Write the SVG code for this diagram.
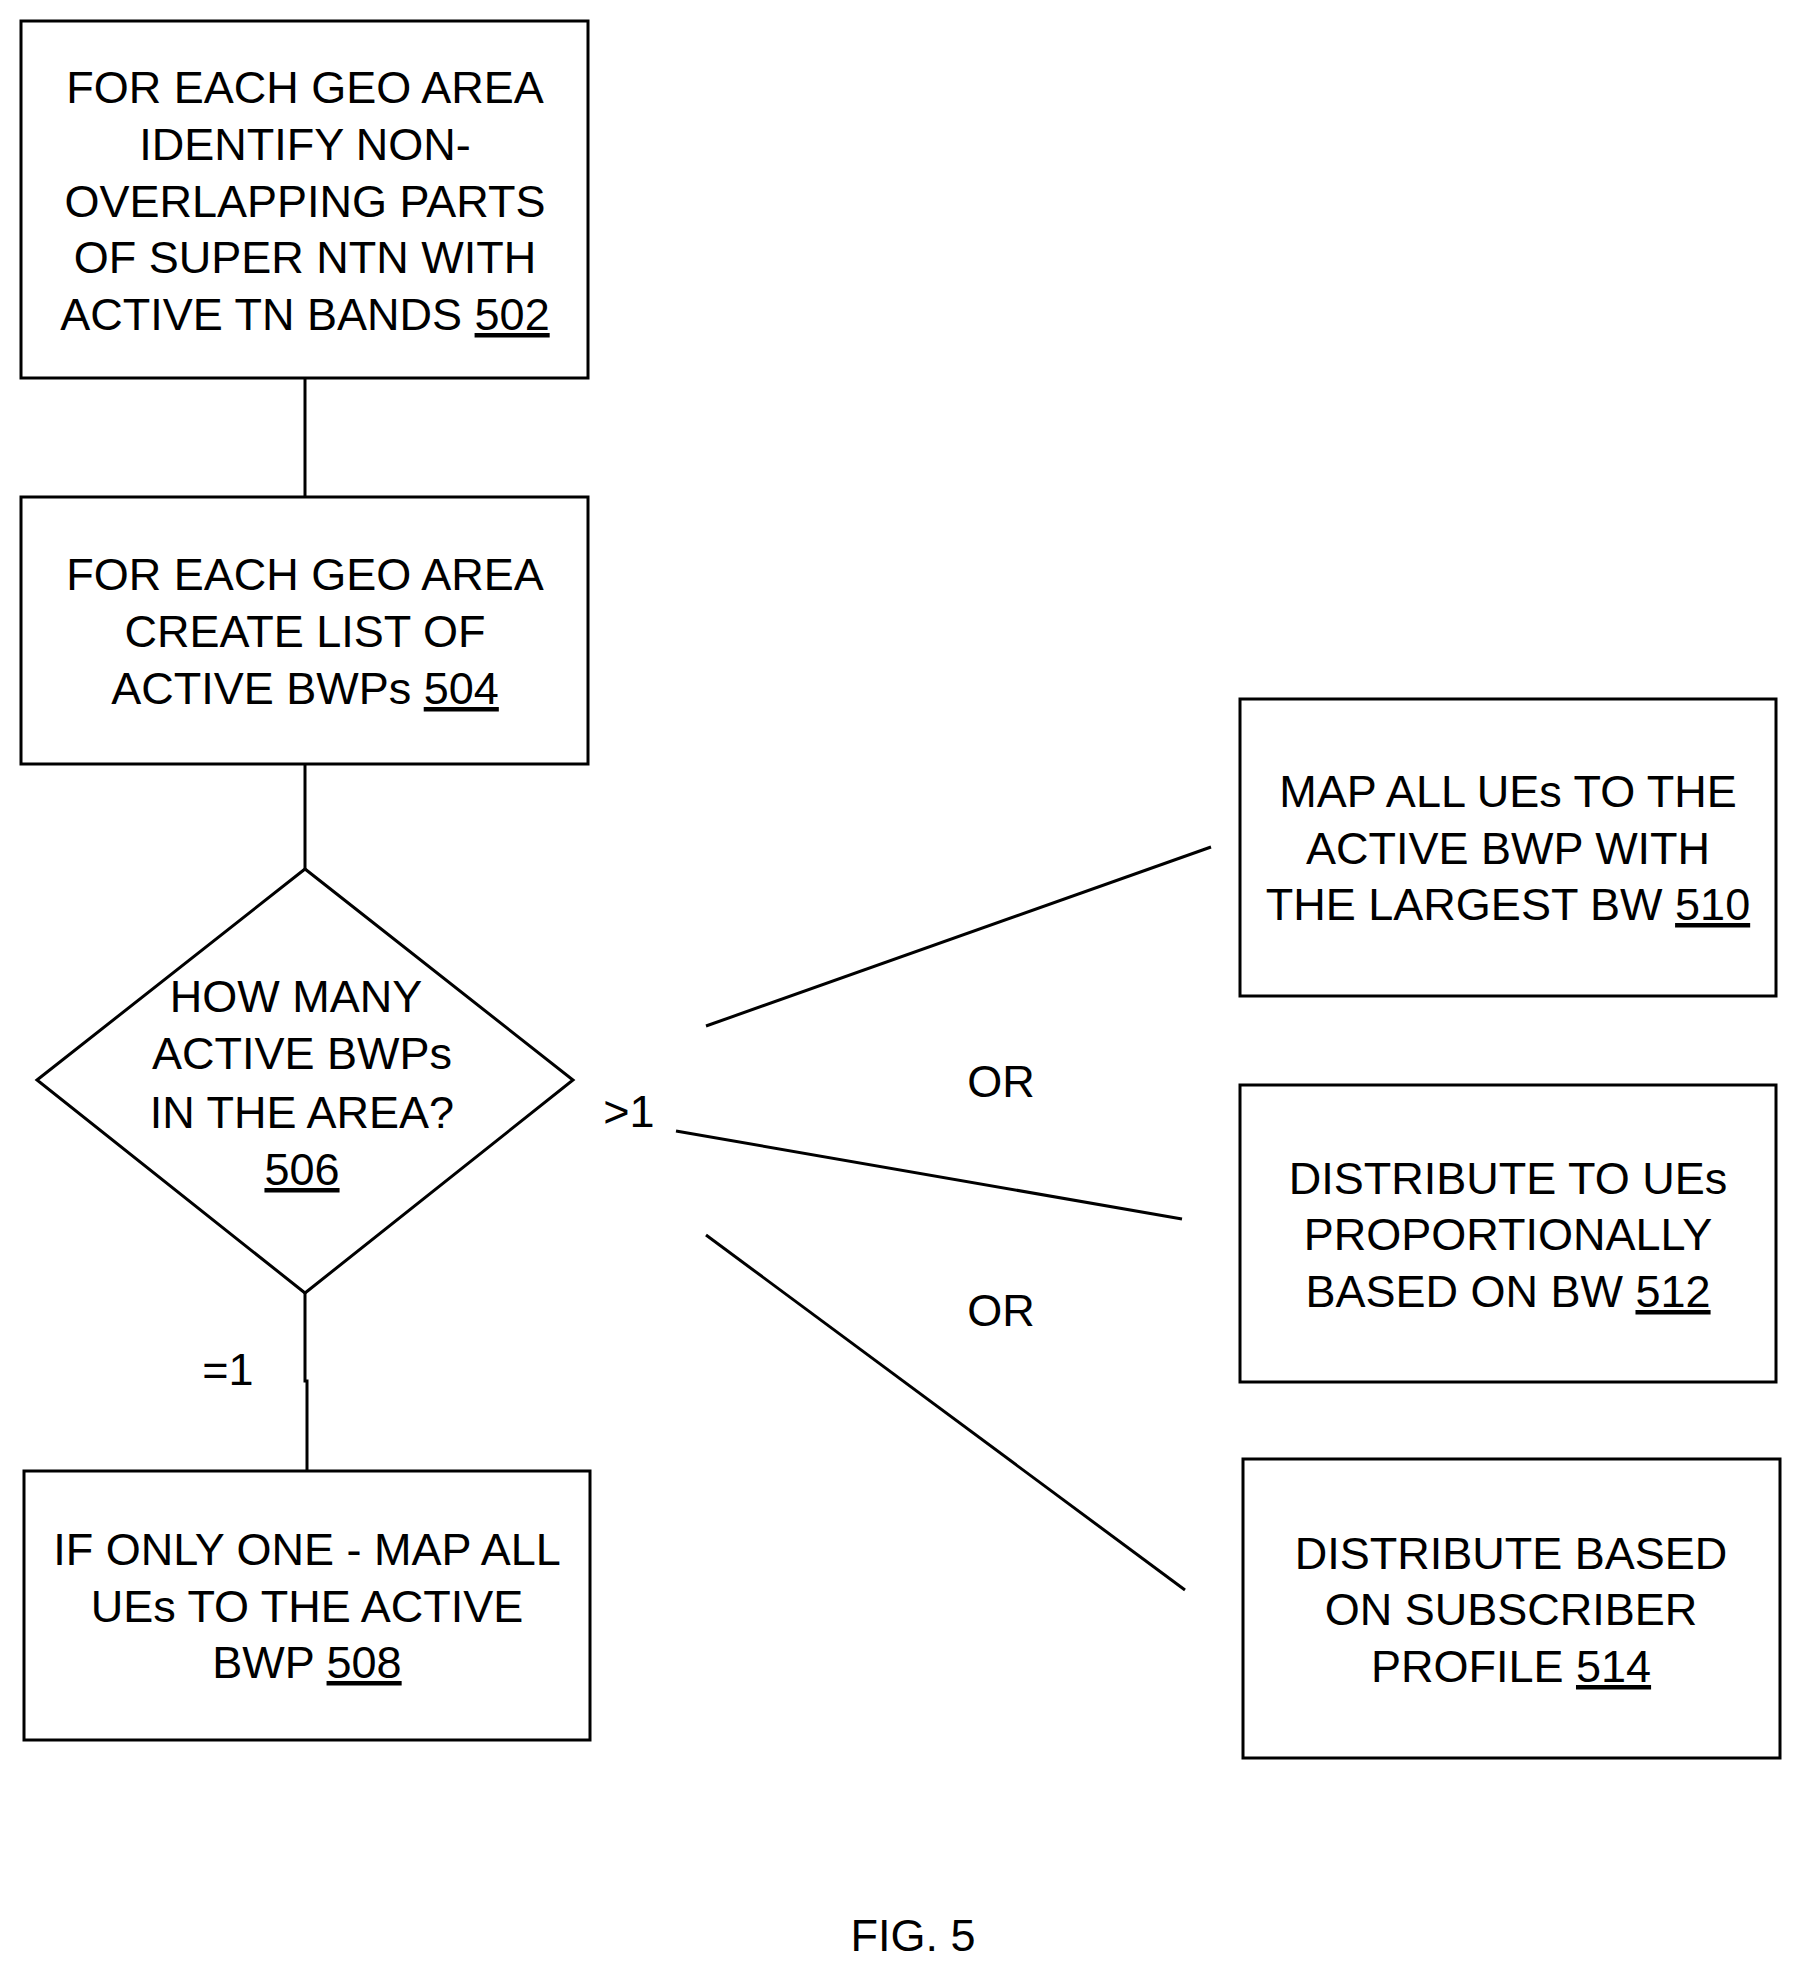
<svg xmlns="http://www.w3.org/2000/svg" width="1813" height="1987" viewBox="0 0 1813 1987">
<style>
.b{fill:#fff;stroke:#000;stroke-width:3}
.c{stroke:#000;stroke-width:3;fill:none}
text{font-family:"Liberation Sans",Arial,sans-serif;font-size:45px;fill:#000;text-anchor:middle}
.u{text-decoration:underline}
</style>
<rect width="1813" height="1987" fill="#fff"/>
<g id="connectors">
<line class="c" x1="305" y1="378" x2="305" y2="497"/>
<line class="c" x1="305" y1="764" x2="305" y2="869"/>
<polyline class="c" points="305,1293 305,1381 307,1381 307,1471"/>
<line class="c" x1="706" y1="1026" x2="1211" y2="847"/>
<line class="c" x1="676" y1="1131" x2="1182" y2="1219"/>
<line class="c" x1="706" y1="1235" x2="1185" y2="1590"/>
<text x="629" y="1127">&gt;1</text>
<text x="228" y="1385">=1</text>
<text x="1001" y="1097">OR</text>
<text x="1001" y="1326">OR</text>
</g>
<g id="n502"><rect class="b" x="21" y="21" width="567" height="357"/>
<text x="305" y="103">FOR EACH GEO AREA</text><text x="305" y="160">IDENTIFY NON-</text><text x="305" y="217">OVERLAPPING  PARTS</text><text x="305" y="273">OF SUPER NTN WITH</text><text x="305" y="330">ACTIVE TN BANDS <tspan class="u">502</tspan></text></g>
<g id="n504"><rect class="b" x="21" y="497" width="567" height="267"/>
<text x="305" y="590">FOR EACH GEO AREA</text><text x="305" y="647">CREATE LIST OF</text><text x="305" y="704">ACTIVE BWPs <tspan class="u">504</tspan></text></g>
<g id="n506"><polygon class="b" points="37,1080 305,869 573,1080 305,1293"/>
<text x="296" y="1012">HOW MANY</text><text x="302" y="1069">ACTIVE BWPs</text><text x="302" y="1128">IN THE AREA?</text><text x="302" y="1185" class="u">506</text></g>
<g id="n508"><rect class="b" x="24" y="1471" width="566" height="269"/>
<text x="307" y="1565">IF ONLY ONE - MAP ALL</text><text x="307" y="1622">UEs TO THE ACTIVE</text><text x="307" y="1678">BWP <tspan class="u">508</tspan></text></g>
<g id="n510"><rect class="b" x="1240" y="699" width="536" height="297"/>
<text x="1508" y="807">MAP ALL UEs  TO THE</text><text x="1508" y="864">ACTIVE BWP WITH</text><text x="1508" y="920">THE LARGEST BW <tspan class="u">510</tspan></text></g>
<g id="n512"><rect class="b" x="1240" y="1085" width="536" height="297"/>
<text x="1508" y="1194">DISTRIBUTE TO UEs</text><text x="1508" y="1250">PROPORTIONALLY</text><text x="1508" y="1307">BASED ON BW <tspan class="u">512</tspan></text></g>
<g id="n514"><rect class="b" x="1243" y="1459" width="537" height="299"/>
<text x="1511" y="1569">DISTRIBUTE BASED</text><text x="1511" y="1625">ON SUBSCRIBER</text><text x="1511" y="1682">PROFILE <tspan class="u">514</tspan></text></g>
<text x="913" y="1951">FIG. 5</text>
</svg>
